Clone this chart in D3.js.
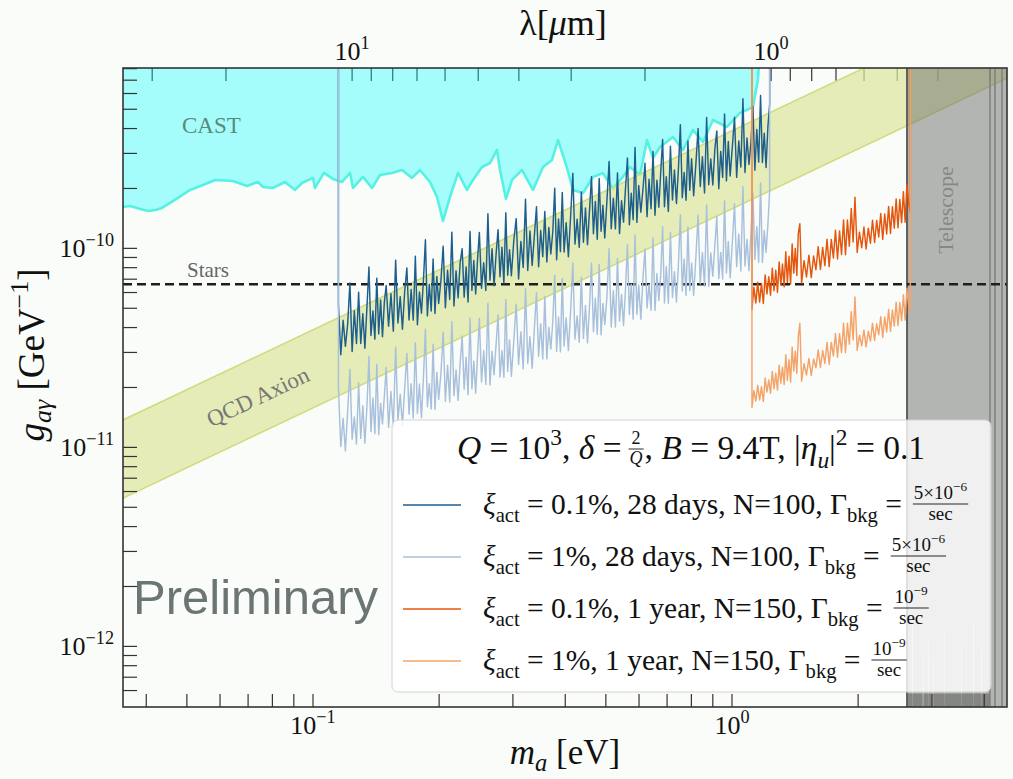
<!DOCTYPE html>
<html>
<head>
<meta charset="utf-8">
<script src="https://cdn.jsdelivr.net/npm/d3@7"></script>
<style>
  html, body { margin: 0; padding: 0; background: #fafcf9; }
  svg { display: block; }
  text { white-space: pre; }
</style>
</head>
<body>
<svg id="chart" width="1013" height="779"></svg>
<script>
// ---------------- axis limits and ticks ----------------
const massDomain = [0.0352, 4.533];          // m_a [eV]
const couplingDomain = [4.96e-13, 8.06e-10]; // g_aγ [GeV^-1]
const HC = 1.2398;                           // eV·μm, λ = hc / m_a

const massMajor = [0.1, 1];
const massMajorExp = ["−1", "0"];
const massMinor = [0.04, 0.05, 0.06, 0.07, 0.08, 0.09, 0.2, 0.3, 0.4, 0.5, 0.6, 0.7, 0.8, 0.9, 2, 3, 4];

const couplingMajor = [1e-10, 1e-11, 1e-12];
const couplingMajorExp = ["−10", "−11", "−12"];
const couplingMinor = [6e-13, 7e-13, 8e-13, 9e-13, 2e-12, 3e-12, 4e-12, 5e-12, 6e-12, 7e-12, 8e-12, 9e-12,
  2e-11, 3e-11, 4e-11, 5e-11, 6e-11, 7e-11, 8e-11, 9e-11, 2e-10, 3e-10, 4e-10, 5e-10, 6e-10, 7e-10, 8e-10];

const lambdaMajor = [10, 1];
const lambdaMajorExp = ["1", "0"];
const lambdaMinor = [30, 20, 9, 8, 7, 6, 5, 4, 3, 2, 0.9, 0.8, 0.7, 0.6, 0.5, 0.4, 0.3];

// ---------------- CAST helioscope limit (g in 1e-10 GeV^-1) ----------------
const castMass = [0.0352,0.0366,0.0387,0.0404,0.0420,0.0436,0.0468,0.0509,0.0546,0.0584,0.0644,0.0696,0.0739,0.0760,
  0.0803,0.0857,0.0906,0.0941,0.100,0.1011,0.1062,0.1116,0.1173,0.1226,0.1246,0.1316,0.1383,0.1445,0.1543,0.1631,
  0.1723,0.1800,0.1902,0.1977,0.2043,0.2123,0.2219,0.2331,0.2409,0.2531,0.2646,0.2749,0.2795,0.2888,0.2985,0.3153,
  0.3350,0.3539,0.3719,0.3844,0.4039,0.4174,0.4410,0.4659,0.4922,0.5200,0.5463,0.5709,0.6032,0.6268,0.6479,0.6732,
  0.7233,0.7639,0.8071,0.8526,0.9009,0.9729,1.045,1.122,1.153,1.166];
const castG = [1.614,1.633,1.578,1.542,1.560,1.596,1.751,1.966,2.083,2.207,2.181,2.059,2.156,2.035,
  2.012,2.156,1.966,2.131,2.259,2.012,2.393,2.233,2.156,2.393,2.012,2.285,2.012,2.338,2.393,2.477,
  2.259,2.477,2.156,1.813,1.373,1.813,2.393,1.966,2.207,2.565,2.686,3.122,2.477,1.771,2.207,2.477,
  1.966,2.565,2.782,3.505,2.535,1.966,1.898,2.285,2.393,1.989,2.259,2.565,2.338,3.505,2.847,3.232,
  3.629,3.122,3.936,3.424,4.418,4.074,4.79,5.135,7.02,10];

// ---------------- QCD axion band ----------------
const qcdMass = [0.03, 5];
const qcdUpperG = [1.17e-11, 1.95e-9];
const qcdLowerG = [4.74e-12, 7.9e-10];

// ---------------- stellar bound ----------------
const starsG = 6.6e-11;

// ---------------- telescope limit ----------------
const telescopeMass = [2.617,2.682,2.689,2.696,2.849,2.856,2.863,2.929,2.936,2.943,3.011,3.018,3.025,
  3.199,3.206,3.213,3.51,3.52,3.53,3.75,3.76,3.77,3.92,3.93,3.94,5.0];
const telescopeLowG = [3,3,13,3,3,9,3,3,11,3,3,8.5,3,3,12,3,3,10,3,3,13.5,3,3,9.5,3,3]; // 1e-13
const telescopeFloorMass = [2.617,2.85,2.856,2.862,2.99,3.0,3.01,4.128];
const telescopeFloorG = [5.8,5.8,3,5.8,5.8,3,5.8,5.8]; // 1e-13
const telescopeEdgeMass = [2.617, 4.128, 4.243, 4.41];

// ---------------- projected sensitivities (g in 1e-11 GeV^-1) ----------------
// 28-day runs; the repeated first/last mass closes the curve vertically to the top
const blueMass = [0.115,
  0.115,0.1165,0.118,0.1195,0.121,0.1225,0.124,0.1255,0.127,0.1285,0.13,0.1315,0.133,0.1345,0.136,0.1375,0.139,0.1405,0.142,0.1435,0.145,0.1465,0.148,0.1495,
  0.1515,0.1535,0.1555,0.1575,0.1595,0.1615,0.1635,0.1655,0.1675,0.1695,0.1715,0.1735,0.1755,0.1775,0.1795,0.1815,0.1835,0.1855,0.1875,0.1895,0.1915,0.1935,0.1955,0.1975,0.1995,
  0.202,0.2045,0.207,0.2095,0.212,0.2145,0.217,0.2195,0.222,0.2245,0.227,0.2295,0.232,0.2345,0.237,0.2395,0.242,0.2445,0.247,0.2495,
  0.2525,0.2555,0.2585,0.2615,0.2645,0.2675,0.2705,0.2735,0.2765,0.2795,0.2825,0.2855,0.2885,0.2915,0.2945,0.2975,
  0.3015,0.3055,0.3095,0.3135,0.3175,0.3215,0.3255,0.3295,0.3335,0.3375,0.3415,0.3455,0.3495,0.3535,0.3575,0.3615,0.3655,0.3695,0.3735,0.3775,0.3815,0.3855,0.3895,0.3935,0.3975,
  0.402,0.407,0.412,0.417,0.422,0.427,0.432,0.437,0.442,0.447,0.452,0.457,0.462,0.467,0.472,0.477,0.482,0.487,0.492,0.497,
  0.503,0.509,0.515,0.521,0.527,0.533,0.539,0.545,0.551,0.557,0.563,0.569,0.575,0.581,0.587,0.593,0.599,
  0.606,0.613,0.620,0.627,0.634,0.641,0.648,0.655,0.662,0.669,0.676,0.683,0.690,0.697,
  0.705,0.713,0.721,0.729,0.737,0.745,0.753,0.761,0.769,0.777,0.785,0.793,0.801,
  0.81,0.82,0.83,0.84,0.85,0.86,0.87,0.88,0.89,0.90,0.91,0.92,0.93,0.94,0.95,0.96,0.97,0.98,0.99,
  1.002,1.014,1.026,1.038,1.050,1.062,1.074,1.086,1.098,1.110,1.122,1.134,1.146,1.158,1.170,1.182,1.194,1.206,1.218,1.230,
  1.230];
const darkBlueG = [100,
  5.22,2.92,4.35,3.22,4.17,6.70,3.03,4.86,3.33,6.02,3.33,4.69,3.15,5.04,8.06,3.65,4.85,3.50,7.07,3.71,5.50,3.60,5.34,6.51,
  4.06,5.91,3.83,8.73,4.22,5.72,3.92,6.05,7.97,4.37,6.21,4.36,9.13,4.13,6.04,4.72,6.96,11.06,4.58,6.59,4.85,8.85,4.71,7.22,5.29,
  6.89,10.26,5.03,7.76,5.54,12.04,5.13,7.71,5.64,8.50,9.96,5.69,8.06,5.38,12.17,6.15,8.69,5.90,8.78,12.03,
  6.31,8.46,6.14,14.93,6.91,9.96,6.49,9.35,12.42,7.20,10.14,6.66,15.09,7.32,9.84,7.28,
  10.97,14.11,7.01,10.82,8.02,17.67,7.74,12.23,8.21,11.50,16.19,8.08,12.30,9.09,15.33,8.54,12.73,9.37,12.12,20.03,8.77,14.07,9.63,19.11,9.59,
  13.47,9.08,14.51,23.85,10.51,14.01,10.12,19.19,10.73,15.95,10.44,15.47,22.92,11.85,17.20,11.12,22.46,12.19,16.47,11.28,
  17.40,27.36,12.56,17.84,12.53,23.95,11.86,17.36,13.55,19.98,28.47,13.15,18.92,13.92,32.17,13.51,20.71,
  15.18,19.76,26.76,14.42,22.23,15.83,30.69,14.66,22.02,16.10,24.20,35.21,16.20,22.93,
  15.32,32.59,17.50,24.75,16.82,25.06,41.83,17.99,24.07,17.46,34.60,19.60,28.21,
  18.39,26.52,40.00,20.46,28.87,18.98,45.51,20.89,28.16,20.84,31.33,38.91,19.92,30.72,22.74,47.29,21.83,34.44,23.09,
  32.36,45.54,22.74,34.63,25.60,56.49,24.04,35.84,26.39,34.11,51.68,24.68,39.63,27.12,58.68,26.99,37.88,25.50,40.64,52.99,
  100];
const lightBlueG = [100,
  2.01,1.01,1.40,0.96,1.52,2.46,1.10,1.42,1.04,2.11,1.11,1.62,1.05,1.60,2.86,1.20,1.77,1.17,2.62,1.16,1.66,1.31,1.80,2.52,
  1.26,1.91,1.26,3.19,1.36,1.85,1.29,1.97,2.96,1.47,2.09,1.40,3.36,1.48,2.08,1.41,2.25,3.92,1.60,2.09,1.56,3.30,1.55,2.38,1.74,
  2.35,3.79,1.70,2.59,1.69,4.28,1.82,2.45,1.72,2.66,3.62,1.96,2.84,1.84,4.47,1.97,2.71,1.87,2.89,4.45,
  2.13,3.06,2.07,5.30,2.06,3.04,2.32,3.29,4.63,2.26,3.06,2.25,5.53,2.41,3.47,2.28,
  3.43,5.24,2.61,3.81,2.48,6.28,2.64,3.60,2.50,3.91,5.99,2.86,4.18,2.78,5.74,2.78,4.01,3.12,4.28,7.32,3.03,4.52,3.02,7.05,3.23,
  4.47,3.07,4.85,8.45,3.50,4.58,3.37,7.15,3.53,5.16,3.35,5.09,8.42,3.81,5.61,3.70,8.31,3.68,5.28,4.14,
  5.72,9.97,4.03,6.12,4.02,8.89,4.31,5.87,4.09,6.25,10.44,4.65,6.61,4.41,11.69,4.67,6.53,
  4.41,7.06,9.94,5.02,6.57,4.89,11.28,4.87,7.47,5.47,7.36,12.83,5.31,8.11,
  5.29,12.02,5.67,7.64,5.38,8.29,14.77,6.11,8.82,5.80,12.81,6.13,8.43,
  5.80,9.00,14.66,6.63,9.55,6.46,16.54,6.44,9.48,7.25,10.27,14.46,7.05,9.55,7.02,17.28,7.52,10.84,7.11,
  10.67,16.74,8.09,11.79,7.69,20.40,8.15,11.12,7.72,12.05,18.94,8.79,12.84,8.55,21.30,8.50,12.27,9.54,13.06,19.55,
  100];

// 1-year runs
const orangeMass = [1.116,
  1.116,1.128,1.140,1.152,1.164,1.176,1.188,1.200,1.212,1.224,1.236,1.248,1.260,1.272,1.284,1.296,1.308,1.320,1.332,1.344,1.356,1.368,1.380,1.392,1.404,1.416,1.428,1.440,1.452,
  1.466,1.486,1.506,1.526,1.546,1.566,1.586,1.606,1.626,1.646,1.666,1.686,1.706,1.726,1.746,1.766,1.786,1.806,1.826,1.846,1.866,1.886,1.906,1.926,1.946,1.966,
  1.990,2.015,2.040,2.065,2.090,2.115,2.140,2.165,2.190,2.215,2.240,2.265,2.290,2.315,2.340,2.365,2.390,2.415,2.440,2.465,2.490,2.515,2.540,2.565,2.590,2.615,2.640,2.665,
  2.665];
const darkOrangeG = [100,
  4.93,6.37,5.32,6.75,5.37,6.67,5.29,7.36,5.90,7.20,5.81,7.94,6.12,7.76,6.01,8.55,6.54,8.35,6.42,9.62,6.75,9.12,6.62,10.53,7.51,10.00,7.30,11.90,13.30,
  6.69,8.68,7.18,9.25,7.13,9.17,7.81,10.20,7.83,10.11,8.19,11.11,8.09,11.10,8.95,12.35,8.84,12.24,9.32,13.89,9.29,13.89,10.24,15.86,10.77,18.06,
  9.54,12.07,10.07,12.80,9.95,12.64,10.62,13.86,10.71,13.80,11.41,14.97,11.10,14.89,11.82,16.25,11.89,16.17,12.63,17.73,12.69,17.63,13.47,19.28,13.52,20.85,16.95,15.13,
  100];
const lightOrangeG = [100,
  1.59,1.93,1.71,2.05,1.73,2.02,1.70,2.23,1.90,2.18,1.87,2.41,1.97,2.36,1.94,2.59,2.10,2.53,2.07,2.92,2.17,2.76,2.13,3.19,2.42,3.04,2.35,3.61,4.20,
  2.15,2.63,2.31,2.80,2.30,2.78,2.51,3.09,2.52,3.07,2.64,3.37,2.61,3.37,2.88,3.74,2.84,3.72,3.00,4.21,2.99,4.21,3.30,4.81,3.47,5.70,
  3.07,3.66,3.24,3.88,3.20,3.83,3.42,4.20,3.45,4.18,3.68,4.54,3.57,4.51,3.80,4.93,3.83,4.90,4.07,5.37,4.09,5.34,4.34,5.85,4.36,6.30,5.20,4.80,
  100];

// ---------------- legend content ----------------
const seriesColors = ["#1d5e8c", "#a8c0dc", "#e5560d", "#f4a46a"];
const legendXi = ["0.1%", "1%", "0.1%", "1%"];
const legendTime = ["28 days", "28 days", "1 year", "1 year"];
const legendN = ["100", "100", "150", "150"];
const legendRateCoef = ["5×10", "5×10", "10", "10"];
const legendRateExp = ["−6", "−6", "−9", "−9"];

// ---------------- layout ----------------
const plot = { left: 123, right: 1007, top: 68, bottom: 707 };
const serif = "'Liberation Serif', 'Times New Roman', serif";

const svg = d3.select("#chart");
const x = d3.scaleLog().domain(massDomain).range([plot.left, plot.right]);
const y = d3.scaleLog().domain(couplingDomain).range([plot.bottom, plot.top]);
const lam = d3.scaleLog().domain([HC / massDomain[0], HC / massDomain[1]]).range([plot.left, plot.right]);

svg.append("defs").append("clipPath").attr("id", "plotClip")
  .append("rect").attr("x", plot.left).attr("y", plot.top)
  .attr("width", plot.right - plot.left).attr("height", plot.bottom - plot.top);

// rich text helper: parts with italics, sub- and superscripts
function addRich(sel, parts, size, subShift = 0.27) {
  let off = 0;
  parts.forEach(p => {
    const target = p.sub ? subShift * size : (p.sup ? -0.42 * size : 0);
    const ts = sel.append("tspan").attr("dy", (target - off).toFixed(2)).text(p.t);
    off = target;
    if (p.sub || p.sup) ts.attr("font-size", (0.7 * size).toFixed(1));
    if (p.it) ts.attr("font-style", "italic");
  });
  return sel;
}

// ---------------- top (wavelength) ticks: beneath the CAST fill ----------------
const topTicks = svg.append("g").attr("stroke", "#333").attr("stroke-width", 1.2);
lambdaMinor.concat(lambdaMajor).forEach(v => {
  topTicks.append("line").attr("x1", lam(v)).attr("x2", lam(v))
    .attr("y1", plot.top).attr("y2", plot.top + 13);
});

const area = svg.append("g").attr("clip-path", "url(#plotClip)");

// CAST excluded region
const castPts = castMass.map((m, i) => [m, castG[i] * 1e-10]);
area.append("path")
  .datum(castPts)
  .attr("d", d3.area().x(d => x(d[0])).y0(y(1e-8)).y1(d => y(d[1])))
  .attr("fill", "#00ffff").attr("fill-opacity", 0.34);
area.append("path")
  .datum(castPts)
  .attr("d", d3.line().x(d => x(d[0])).y(d => y(d[1])))
  .attr("fill", "none").attr("stroke", "#55f2e4").attr("stroke-width", 2.6)
  .attr("stroke-linejoin", "round");

// QCD axion band
const qcdPts = qcdMass.map((m, i) => ({ m, lo: qcdLowerG[i], hi: qcdUpperG[i] }));
area.append("path").datum(qcdPts)
  .attr("d", d3.area().x(d => x(d.m)).y0(d => y(d.lo)).y1(d => y(d.hi)))
  .attr("fill", "#dde69c").attr("fill-opacity", 0.72);
[qcdLowerG, qcdUpperG].forEach(arr => {
  area.append("path").datum(qcdMass.map((m, i) => [m, arr[i]]))
    .attr("d", d3.line().x(d => x(d[0])).y(d => y(d[1])))
    .attr("stroke", "#cfdc80").attr("stroke-width", 1.6).attr("fill", "none");
});

// Telescope excluded region
area.append("path")
  .datum(telescopeMass.map((m, i) => [m, telescopeLowG[i] * 1e-13]))
  .attr("d", d3.area().x(d => x(d[0])).y0(y(1e-8)).y1(d => y(d[1])).curve(d3.curveStepAfter))
  .attr("fill", "#6c6e6c").attr("fill-opacity", 0.5);
area.append("path")
  .datum(telescopeFloorMass.map((m, i) => [m, telescopeFloorG[i] * 1e-13]))
  .attr("d", d3.area().x(d => x(d[0])).y0(y(1e-14)).y1(d => y(d[1])))
  .attr("fill", "#555755").attr("fill-opacity", 0.5);
telescopeEdgeMass.forEach((m, i) => {
  area.append("line").attr("x1", x(m)).attr("x2", x(m))
    .attr("y1", plot.top).attr("y2", plot.bottom)
    .attr("stroke", i === 0 ? "#5e605e" : "#7b7d7b").attr("stroke-width", i === 0 ? 2 : 1.4);
});

// Stellar bound
area.append("line")
  .attr("x1", plot.left).attr("x2", plot.right)
  .attr("y1", y(starsG)).attr("y2", y(starsG))
  .attr("stroke", "#1e1e1e").attr("stroke-width", 2.4).attr("stroke-dasharray", "9,5");

// Sensitivity curves
const curveLine = d3.line().x(d => x(d[0])).y(d => y(d[1]));
const curves = [
  [blueMass, darkBlueG],
  [blueMass, lightBlueG],
  [orangeMass, darkOrangeG],
  [orangeMass, lightOrangeG]
];
curves.forEach(([ms, gs], i) => {
  area.append("path")
    .datum(ms.map((m, j) => [m, gs[j] * 1e-11]))
    .attr("d", curveLine)
    .attr("fill", "none").attr("stroke", seriesColors[i])
    .attr("stroke-width", 1.45).attr("stroke-linejoin", "round");
});

// ---------------- region labels ----------------
svg.append("text").attr("x", 182).attr("y", 133).attr("font-family", serif)
  .attr("font-size", 23).attr("fill", "#5a8a7c").text("CAST");
svg.append("text").attr("x", 187).attr("y", y(starsG) - 7).attr("font-family", serif)
  .attr("font-size", 21).attr("fill", "#666").text("Stars");
svg.append("text")
  .attr("transform", `translate(258,397) rotate(-25.4)`)
  .attr("text-anchor", "middle").attr("dominant-baseline", "central")
  .attr("font-family", serif).attr("font-size", 23).attr("fill", "#777").text("QCD Axion");
svg.append("text")
  .attr("transform", `translate(945,210) rotate(-90)`)
  .attr("text-anchor", "middle").attr("dominant-baseline", "central")
  .attr("font-family", serif).attr("font-size", 22).attr("fill", "#858885").text("Telescope");

// ---------------- legend ----------------
const leg = svg.append("g");
leg.append("rect").attr("x", 392).attr("y", 420).attr("width", 599).attr("height", 272)
  .attr("rx", 6).attr("fill", "#ffffff").attr("fill-opacity", 0.8)
  .attr("stroke", "#d2d2d2").attr("stroke-width", 1);

function fraction(g, x0, cy, numParts, den, size) {
  const num = g.append("text").attr("y", cy - 5).attr("font-size", size).attr("text-anchor", "middle");
  addRich(num, numParts, size);
  const denT = g.append("text").attr("y", cy + size * 0.85).attr("font-size", size).attr("text-anchor", "middle").text(den);
  const w = Math.max(num.node().getComputedTextLength(), denT.node().getComputedTextLength()) + 2;
  num.attr("x", x0 + w / 2);
  denT.attr("x", x0 + w / 2);
  g.append("line").attr("x1", x0).attr("x2", x0 + w).attr("y1", cy).attr("y2", cy)
    .attr("stroke", "#111").attr("stroke-width", 0.9);
  return w;
}

// legend title
const titleG = leg.append("g").attr("font-family", serif).attr("fill", "#111");
const titleSize = 33.5;
const t1 = titleG.append("text").attr("x", 0).attr("y", 0).attr("font-size", titleSize);
addRich(t1, [{ t: "Q", it: 1 }, { t: " = 10" }, { t: "3", sup: 1 }, { t: ", " }, { t: "δ", it: 1 }, { t: " =" }], titleSize);
let tx = t1.node().getComputedTextLength() + 7;
const fq = titleG.append("g").attr("font-family", serif);
const fw = fraction(fq, tx, -10, [{ t: "2" }], "Q", 18);
fq.selectAll("text").filter((d, i) => i === 1).attr("font-style", "italic");
tx += fw + 1;
const t2 = titleG.append("text").attr("x", tx).attr("y", 0).attr("font-size", titleSize);
addRich(t2, [{ t: ", " }, { t: "B", it: 1 }, { t: " = 9.4T, |" }, { t: "η", it: 1 }, { t: "u", it: 1, sub: 1 },
  { t: "|" }, { t: "2", sup: 1 }, { t: " = 0.1" }], titleSize);
tx += t2.node().getComputedTextLength();
titleG.attr("transform", `translate(${691 - tx / 2},459)`);

// legend entries
const entrySize = 29.5;
const entryY = [505, 557, 609, 661];
entryY.forEach((cy, i) => {
  leg.append("line").attr("x1", 403).attr("x2", 461).attr("y1", cy).attr("y2", cy)
    .attr("stroke", seriesColors[i]).attr("stroke-width", 1.6);
  const eg = leg.append("g").attr("font-family", serif).attr("fill", "#111");
  const et = eg.append("text").attr("x", 483).attr("y", cy + 9).attr("font-size", entrySize);
  addRich(et, [{ t: "ξ", it: 1 }, { t: "act", sub: 1 }, { t: ` = ${legendXi[i]}, ${legendTime[i]}, N=${legendN[i]}, Γ` },
    { t: "bkg", sub: 1 }, { t: " =" }], entrySize);
  const endX = 483 + et.node().getComputedTextLength() + 11;
  fraction(eg, endX, cy - 1, [{ t: legendRateCoef[i] }, { t: legendRateExp[i], sup: 1 }], "sec", 19);
});

// watermark
svg.append("text").attr("x", 133).attr("y", 614)
  .attr("font-family", "'Liberation Sans', Arial, sans-serif").attr("font-size", 49)
  .attr("fill", "#6b7573").text("Preliminary");

// ---------------- frame, bottom and left axes ----------------
svg.append("rect").attr("x", plot.left).attr("y", plot.top)
  .attr("width", plot.right - plot.left).attr("height", plot.bottom - plot.top)
  .attr("fill", "none").attr("stroke", "#333").attr("stroke-width", 1.6);

const axG = svg.append("g").attr("stroke", "#333").attr("stroke-width", 1.2);
massMinor.concat(massMajor).forEach(v => {
  axG.append("line").attr("x1", x(v)).attr("x2", x(v)).attr("y1", plot.bottom).attr("y2", plot.bottom - 13);
});
couplingMinor.concat(couplingMajor).forEach(v => {
  axG.append("line").attr("x1", plot.left).attr("x2", plot.left + 14).attr("y1", y(v)).attr("y2", y(v));
});

const tickSize = 26;
massMajor.forEach((v, i) => {
  const t = svg.append("text").attr("x", x(v)).attr("y", 734).attr("text-anchor", "middle")
    .attr("font-family", serif).attr("font-size", tickSize).attr("fill", "#111");
  addRich(t, [{ t: "10" }, { t: massMajorExp[i], sup: 1 }], tickSize);
});
couplingMajor.forEach((v, i) => {
  const t = svg.append("text").attr("x", 114).attr("y", y(v) + 9).attr("text-anchor", "end")
    .attr("font-family", serif).attr("font-size", tickSize).attr("fill", "#111");
  addRich(t, [{ t: "10" }, { t: couplingMajorExp[i], sup: 1 }], tickSize);
});
lambdaMajor.forEach((v, i) => {
  const t = svg.append("text").attr("x", lam(v)).attr("y", 60).attr("text-anchor", "middle")
    .attr("font-family", serif).attr("font-size", tickSize).attr("fill", "#111");
  addRich(t, [{ t: "10" }, { t: lambdaMajorExp[i], sup: 1 }], tickSize);
});

// axis titles
const xt = svg.append("text").attr("x", 565).attr("y", 764).attr("text-anchor", "middle")
  .attr("font-family", serif).attr("font-size", 35).attr("fill", "#111");
addRich(xt, [{ t: "m", it: 1 }, { t: "a", it: 1, sub: 1 }, { t: " [eV]" }], 35, 0.2);

const tt = svg.append("text").attr("x", 563).attr("y", 35).attr("text-anchor", "middle")
  .attr("font-family", serif).attr("font-size", 36).attr("fill", "#111");
addRich(tt, [{ t: "λ" }, { t: "[" }, { t: "μ", it: 1 }, { t: "m]" }], 36);

const yt = svg.append("text").attr("transform", "translate(44,355) rotate(-90)").attr("text-anchor", "middle")
  .attr("font-family", serif).attr("font-size", 37).attr("fill", "#111");
addRich(yt, [{ t: "g", it: 1 }, { t: "aγ", it: 1, sub: 1 }, { t: " [GeV" }, { t: "−1", sup: 1 }, { t: "]" }], 37, 0.2);
</script>
</body>
</html>
